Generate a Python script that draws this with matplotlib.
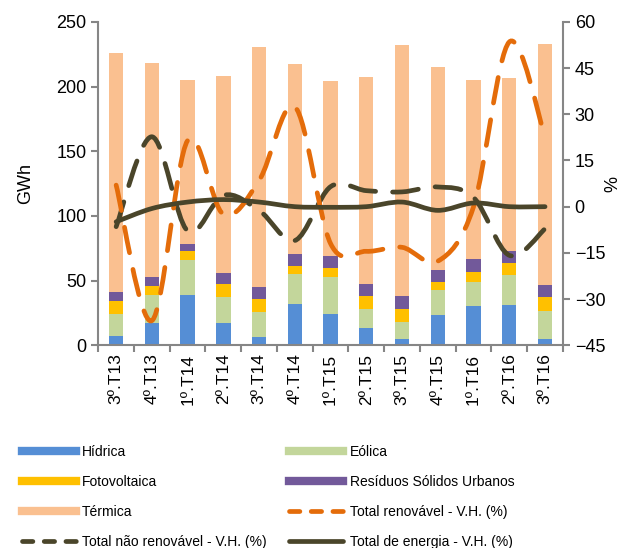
import numpy as np
import matplotlib
matplotlib.use("Agg")
import matplotlib.pyplot as plt
from matplotlib.path import Path
from matplotlib.patches import PathPatch
from matplotlib.lines import Line2D

plt.rcParams['font.family'] = ['Liberation Sans', 'DejaVu Sans']

quarters = ["3º.T13", "4º.T13", "1º.T14", "2º.T14", "3º.T14", "4º.T14", "1º.T15",
            "2º.T15", "3º.T15", "4º.T15", "1º.T16", "2º.T16", "3º.T16"]

hidrica = [7, 17, 38.5, 17, 6.5, 32, 24, 13, 5, 23, 30, 31.5, 5]
eolica = [17, 22, 27.5, 20, 19.5, 23, 28.5, 15, 13, 20, 19, 23, 21.5]
foto = [10, 6.5, 6.7, 10, 9.5, 6.2, 7.2, 10, 10, 6, 7.4, 9.3, 11]
rsu = [7, 7, 5.7, 9, 9.3, 9.5, 9.5, 9, 10.4, 9, 10, 8.8, 9.3]
termica = [185, 166, 126.6, 152, 185.6, 147, 135, 160.5, 194, 157, 139, 134, 186]

vh_renov = [7, -37, 21.5, -2.5, 8.5, 32.5, -12, -14.5, -13.2, -17.7, 0, 53.5, 22.7]
vh_nao_renov = [-6.5, 22.7, -7.9, 3.7, -1.2, -11, 6.5, 5.2, 4.8, 6.4, 3, -15.8, -7.2]
vh_total = [-4.9, -0.6, 1.5, 2.3, 1.5, 0, -0.2, 0, 1.5, -1.2, 1.2, 0, 0]

c_hid = "#558ED5"
c_eol = "#C3D69B"
c_fot = "#FFC000"
c_rsu = "#72599A"
c_ter = "#FAC090"
c_orange = "#E46C0A"
c_dark = "#4A452A"


def smooth_path(x, y, t=1/6):
    # Excel-like smoothed line as bezier segments through the data points
    x = np.asarray(x, float)
    y = np.asarray(y, float)
    n = len(x)
    verts = [(x[0], y[0])]
    codes = [Path.MOVETO]
    for i in range(n - 1):
        p0 = np.array([x[max(i - 1, 0)], y[max(i - 1, 0)]])
        p1 = np.array([x[i], y[i]])
        p2 = np.array([x[i + 1], y[i + 1]])
        p3 = np.array([x[min(i + 2, n - 1)], y[min(i + 2, n - 1)]])
        c1 = p1 + (p2 - p0) * t
        c2 = p2 - (p3 - p1) * t
        verts += [tuple(c1), tuple(c2), tuple(p2)]
        codes += [Path.CURVE4] * 3
    return Path(verts, codes)


fig = plt.figure(figsize=(6.22, 5.48), dpi=100)
ax = fig.add_axes([0.158, 0.370, 0.747, 0.590])
ax2 = ax.twinx()

x = np.arange(len(quarters))
w = 0.4
bottom = np.zeros(len(x))
for vals, col in [(hidrica, c_hid), (eolica, c_eol), (foto, c_fot), (rsu, c_rsu), (termica, c_ter)]:
    ax.bar(x, vals, w, bottom=bottom, color=col, zorder=2)
    bottom += np.array(vals)

ax.set_ylim(0, 250)
ax.set_yticks(range(0, 251, 50))
ax.set_xlim(-0.5, len(x) - 0.5)
ax.set_xticks(x)
ax.set_xticklabels(quarters, rotation=90, fontsize=12.5)
ax.set_xticks(np.arange(-0.5, len(x), 1), minor=True)
ax.tick_params(axis='x', which='major', length=0, pad=6)
ax.tick_params(axis='x', which='minor', length=5, color="#868686", width=1.5)
ax.tick_params(axis='y', labelsize=13, length=5, color="#868686", width=1.5)
ax.set_ylabel("GWh", fontsize=13, labelpad=16)

dash = (0, (5.5, 3.6))
for vals, col, ls in [(vh_nao_renov, c_dark, dash), (vh_renov, c_orange, dash), (vh_total, c_dark, '-')]:
    patch = PathPatch(smooth_path(x, vals), facecolor='none', edgecolor=col,
                      linewidth=3.4, linestyle=ls, capstyle='round', zorder=3)
    ax2.add_patch(patch)

ax2.set_ylim(-45, 60)
ax2.set_yticks(range(-45, 61, 15))
ax2.tick_params(axis='y', labelsize=13, length=5, color="#868686", width=1.5)
ax2.set_ylabel("%", fontsize=13)
ax2.yaxis.set_label_coords(1.09, 0.5)

for a in (ax, ax2):
    a.spines['top'].set_visible(False)
    for s in ('left', 'right', 'bottom'):
        a.spines[s].set_color("#868686")
        a.spines[s].set_linewidth(1.5)
ax.spines['right'].set_visible(False)
ax2.spines['left'].set_visible(False)
ax2.spines['bottom'].set_visible(False)

handles = [
    Line2D([], [], color=c_hid, lw=6),
    Line2D([], [], color=c_fot, lw=6),
    Line2D([], [], color=c_ter, lw=6),
    Line2D([], [], color=c_dark, lw=3.4, linestyle=(0, (2.2, 2.4)), dash_capstyle='round'),
    Line2D([], [], color=c_eol, lw=6),
    Line2D([], [], color=c_rsu, lw=6),
    Line2D([], [], color=c_orange, lw=3.4, linestyle=(0, (2.2, 2.4)), dash_capstyle='round'),
    Line2D([], [], color=c_dark, lw=3.4, solid_capstyle='round'),
]
labels = ["Hídrica", "Fotovoltaica", "Térmica", "Total não renovável - V.H. (%)",
          "Eólica", "Resíduos Sólidos Urbanos", "Total renovável - V.H. (%)",
          "Total de energia - V.H. (%)"]
fig.legend(handles, labels, ncol=2, loc='lower left', bbox_to_anchor=(0.015, -0.025),
           frameon=False, fontsize=10, handlelength=3.9, handletextpad=0.45,
           columnspacing=1.6, labelspacing=1.15)

fig.savefig("out.png", dpi=100)
